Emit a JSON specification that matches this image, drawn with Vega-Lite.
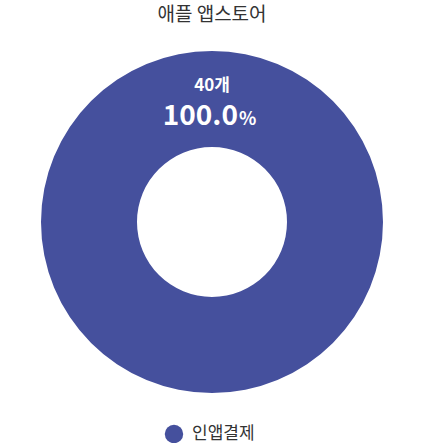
{
  "$schema": "https://vega.github.io/schema/vega-lite/v6.json",
  "autosize": {"type": "fit", "contains": "padding"},
  "width": 424,
  "height": 443,
  "padding": {"top": 6, "bottom": 38, "left": 0, "right": 0},
  "background": "white",
  "title": {
    "text": "애플 앱스토어",
    "font": "Noto Sans CJK KR",
    "fontSize": 19,
    "fontWeight": "normal",
    "color": "#333333",
    "offset": 14
  },
  "config": {
    "view": {"stroke": null},
    "font": "Noto Sans CJK KR"
  },
  "data": {
    "values": [
      {"type": "인앱결제", "count": 40, "percent": 100.0}
    ]
  },
  "transform": [
    {"calculate": "datum.count + '개'", "as": "countLabel"}
  ],
  "encoding": {
    "theta": {
      "field": "count",
      "type": "quantitative",
      "stack": true,
      "scale": {"range": [3.14159265, 9.42477796]}
    }
  },
  "layer": [
    {
      "mark": {"type": "arc", "outerRadius": 171, "innerRadius": 75},
      "encoding": {
        "color": {
          "field": "type",
          "type": "nominal",
          "scale": {"range": ["#45509d"]},
          "legend": {
            "orient": "none",
            "legendX": 164,
            "legendY": 385,
            "direction": "horizontal",
            "title": null,
            "symbolType": "circle",
            "symbolSize": 340,
            "labelFontSize": 17,
            "labelColor": "#333333",
            "labelFont": "Noto Sans CJK KR",
            "labelOffset": 8
          }
        }
      }
    },
    {
      "mark": {"type": "text", "radius": 136, "fontSize": 17, "fontWeight": "bold", "color": "white", "baseline": "middle"},
      "encoding": {"text": {"field": "countLabel", "type": "nominal"}}
    },
    {
      "mark": {"type": "text", "radius": 105, "fontSize": 28, "fontWeight": "bold", "color": "white", "baseline": "middle", "align": "right", "dx": 26},
      "encoding": {"text": {"field": "percent", "type": "quantitative", "format": ".1f"}}
    },
    {
      "mark": {"type": "text", "radius": 105, "fontSize": 18, "fontWeight": "bold", "color": "white", "baseline": "middle", "align": "left", "dx": 27, "dy": 3},
      "encoding": {"text": {"value": "%"}}
    }
  ]
}
